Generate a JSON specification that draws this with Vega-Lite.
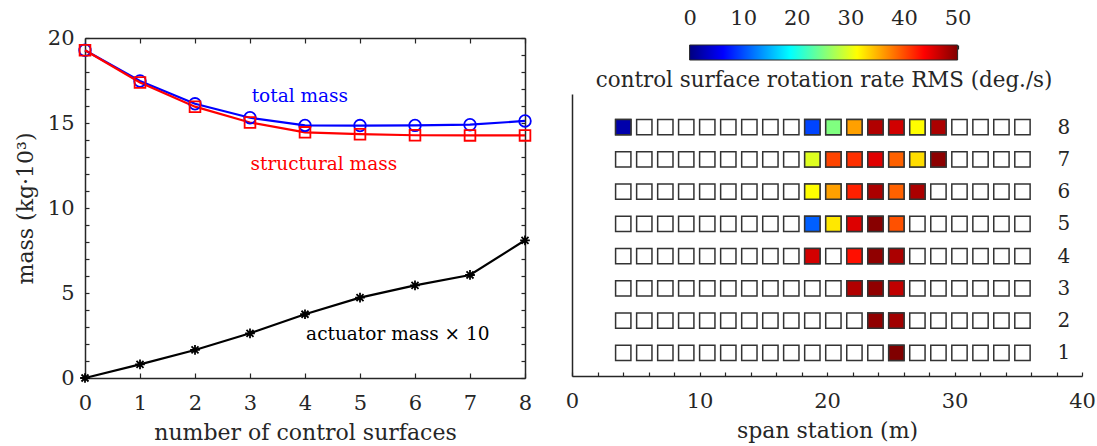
{
  "$schema": "https://vega.github.io/schema/vega-lite/v6.json",
  "background": "white",
  "padding": {"left": 14, "top": 7, "right": 0, "bottom": 0},
  "config": {
    "font": "DejaVu Serif",
    "view": {"stroke": null},
    "axis": {
      "labelFont": "DejaVu Serif", "titleFont": "DejaVu Serif",
      "labelFontSize": 21, "titleFontSize": 22, "titleFontWeight": "normal",
      "labelColor": "#262626", "titleColor": "#262626",
      "domainColor": "#262626", "tickColor": "#262626",
      "domainWidth": 1.5, "tickWidth": 1.2, "grid": false,
      "labelFlush": false, "labelOverlap": false
    }
  },
  "spacing": 30,
  "hconcat": [
    {
      "width": 440, "height": 340,
      "data": {"values": [
        {"n": 0, "series": "total", "mass": 19.28},
        {"n": 1, "series": "total", "mass": 17.47},
        {"n": 2, "series": "total", "mass": 16.13},
        {"n": 3, "series": "total", "mass": 15.31},
        {"n": 4, "series": "total", "mass": 14.86},
        {"n": 5, "series": "total", "mass": 14.85},
        {"n": 6, "series": "total", "mass": 14.86},
        {"n": 7, "series": "total", "mass": 14.9},
        {"n": 8, "series": "total", "mass": 15.12},
        {"n": 0, "series": "structural", "mass": 19.28},
        {"n": 1, "series": "structural", "mass": 17.38},
        {"n": 2, "series": "structural", "mass": 15.96},
        {"n": 3, "series": "structural", "mass": 15.03},
        {"n": 4, "series": "structural", "mass": 14.45},
        {"n": 5, "series": "structural", "mass": 14.34},
        {"n": 6, "series": "structural", "mass": 14.28},
        {"n": 7, "series": "structural", "mass": 14.27},
        {"n": 8, "series": "structural", "mass": 14.27},
        {"n": 0, "series": "actuator", "mass": 0},
        {"n": 1, "series": "actuator", "mass": 0.8},
        {"n": 2, "series": "actuator", "mass": 1.65},
        {"n": 3, "series": "actuator", "mass": 2.63},
        {"n": 4, "series": "actuator", "mass": 3.75},
        {"n": 5, "series": "actuator", "mass": 4.73},
        {"n": 6, "series": "actuator", "mass": 5.45},
        {"n": 7, "series": "actuator", "mass": 6.06},
        {"n": 8, "series": "actuator", "mass": 8.1}
      ]},
      "layer": [
        {
          "mark": {"type": "line", "strokeWidth": 2.2},
          "encoding": {
            "x": {"field": "n", "type": "quantitative", "scale": {"domain": [0, 8], "nice": false},
                  "axis": {"values": [0,1,2,3,4,5,6,7,8], "format": "d", "tickSize": -5, "labelPadding": 19,
                           "title": "number of control surfaces", "titlePadding": 9}},
            "y": {"field": "mass", "type": "quantitative", "scale": {"domain": [0, 20], "nice": false},
                  "axis": {"values": [0,1,2,3,4,5,6,7,8,9,10,11,12,13,14,15,16,17,18,19,20],
                           "labelExpr": "datum.value % 5 === 0 ? datum.label : ''",
                           "tickSize": -4,
                           "labelPadding": 15, "title": "mass (kg·10³)", "titlePadding": 10}},
            "color": {"field": "series", "type": "nominal",
                      "scale": {"domain": ["total", "structural", "actuator"], "range": ["#0000ff", "#ff0000", "#000000"]},
                      "legend": null}
          }
        },
        {
          "mark": {"type": "point", "filled": false, "strokeWidth": 1.8, "opacity": 1},
          "encoding": {
            "x": {"field": "n", "type": "quantitative", "axis": null},
            "y": {"field": "mass", "type": "quantitative", "axis": null},
            "color": {"field": "series", "type": "nominal", "legend": null},
            "shape": {"field": "series", "type": "nominal",
                      "scale": {"domain": ["total", "structural", "actuator"],
                                "range": ["circle", "square", "M-1,0L1,0M0,-1L0,1M-0.72,-0.72L0.72,0.72M-0.72,0.72L0.72,-0.72"]},
                      "legend": null},
            "size": {"field": "series", "type": "nominal",
                     "scale": {"domain": ["total", "structural", "actuator"], "range": [135, 95, 225]},
                     "legend": null}
          }
        },
        {
          "data": {"values": [
            {"n": 3.03, "mass": 16.6, "series": "total", "label": "total mass"},
            {"n": 3.01, "mass": 12.57, "series": "structural", "label": "structural mass"},
            {"n": 4.02, "mass": 2.57, "series": "actuator", "label": "actuator mass × 10"}
          ]},
          "mark": {"type": "text", "align": "left", "baseline": "middle", "fontSize": 18.5, "font": "DejaVu Serif"},
          "encoding": {
            "x": {"field": "n", "type": "quantitative",
                  "axis": {"orient": "top", "values": [0,1,2,3,4,5,6,7,8], "labels": false, "tickSize": -5, "title": null}},
            "y": {"field": "mass", "type": "quantitative",
                  "axis": {"orient": "right", "values": [0,1,2,3,4,5,6,7,8,9,10,11,12,13,14,15,16,17,18,19,20], "labels": false,
                           "tickSize": -4, "title": null}},
            "text": {"field": "label"},
            "color": {"field": "series", "type": "nominal", "legend": null}
          }
        }
      ],
      "resolve": {"axis": {"x": "independent", "y": "independent"}}
    },
    {
      "spacing": 3,
      "vconcat": [
        {
          "width": 510, "height": 22,
          "data": {"values": [{"lo": 0, "hi": 50, "b": 0, "t": 1}]},
          "layer": [
            {
              "mark": {"type": "rect", "fill": {"gradient": "linear", "x1": 0, "x2": 1, "y1": 0, "y2": 0,
                        "stops": [
                          {"offset": 0, "color": "#000080"},
                          {"offset": 0.125, "color": "#0000ff"},
                          {"offset": 0.375, "color": "#00ffff"},
                          {"offset": 0.625, "color": "#ffff00"},
                          {"offset": 0.875, "color": "#ff0000"},
                          {"offset": 1, "color": "#800000"}
                        ]}},
              "encoding": {
                "x": {"field": "lo", "type": "quantitative", "scale": {"domain": [-21.94, 73.21], "nice": false, "zero": false},
                      "axis": {"orient": "top", "values": [0,10,20,30,40,50], "tickSize": -4, "domain": false,
                               "offset": -7, "labelPadding": 21, "title": null}},
                "x2": {"field": "hi"},
                "y": {"field": "b", "type": "quantitative", "scale": {"domain": [0, 1.4667], "nice": false}, "axis": null},
                "y2": {"field": "t"}
              }
            },
            {
              "mark": {"type": "rect", "fillOpacity": 0, "stroke": "#262626", "strokeWidth": 1},
              "encoding": {
                "x": {"field": "lo", "type": "quantitative",
                      "axis": {"orient": "bottom", "labels": false, "ticks": false, "domain": false,
                               "title": "control surface rotation rate RMS (deg./s)", "titleFontSize": 21.4, "titlePadding": 9,
                               "titleX": 251.6, "titleAlign": "center", "titleAnchor": "middle"}},
                "x2": {"field": "hi"},
                "y": {"field": "b", "type": "quantitative", "axis": null},
                "y2": {"field": "t"}
              }
            }
          ],
          "resolve": {"axis": {"x": "independent"}}
        },
        {
          "width": 510, "height": 282,
          "data": {"values": [
            {"row": 8, "station": [4.02,5.67,7.32,8.96,10.61,12.26,13.91,15.56,17.2,18.85,20.5,22.15,23.8,25.44,27.09,28.74,30.39,32.04,33.68,35.33],
             "rate": [2.1,null,null,null,null,null,null,null,null,9.6,25,35.9,47.6,46,31.3,47.9,null,null,null,null]},
            {"row": 7, "station": [4.02,5.67,7.32,8.96,10.61,12.26,13.91,15.56,17.2,18.85,20.5,22.15,23.8,25.44,27.09,28.74,30.39,32.04,33.68,35.33],
             "rate": [null,null,null,null,null,null,null,null,null,29.7,40.4,41.4,45.3,39,32.9,49.4,null,null,null,null]},
            {"row": 6, "station": [4.02,5.67,7.32,8.96,10.61,12.26,13.91,15.56,17.2,18.85,20.5,22.15,23.8,25.44,27.09,28.74,30.39,32.04,33.68,35.33],
             "rate": [null,null,null,null,null,null,null,null,null,31.3,35.9,42.2,47.9,39,47.9,null,null,null,null,null]},
            {"row": 5, "station": [4.02,5.67,7.32,8.96,10.61,12.26,13.91,15.56,17.2,18.85,20.5,22.15,23.8,25.44,27.09,28.74,30.39,32.04,33.68,35.33],
             "rate": [null,null,null,null,null,null,null,null,null,10.9,32.4,45.4,49.6,39.8,null,null,null,null,null,null]},
            {"row": 4, "station": [4.02,5.67,7.32,8.96,10.61,12.26,13.91,15.56,17.2,18.85,20.5,22.15,23.8,25.44,27.09,28.74,30.39,32.04,33.68,35.33],
             "rate": [null,null,null,null,null,null,null,null,null,45.9,null,43,49.2,47.9,null,null,null,null,null,null]},
            {"row": 3, "station": [4.02,5.67,7.32,8.96,10.61,12.26,13.91,15.56,17.2,18.85,20.5,22.15,23.8,25.44,27.09,28.74,30.39,32.04,33.68,35.33],
             "rate": [null,null,null,null,null,null,null,null,null,null,null,47.6,49.2,46.8,null,null,null,null,null,null]},
            {"row": 2, "station": [4.02,5.67,7.32,8.96,10.61,12.26,13.91,15.56,17.2,18.85,20.5,22.15,23.8,25.44,27.09,28.74,30.39,32.04,33.68,35.33],
             "rate": [null,null,null,null,null,null,null,null,null,null,null,null,49.2,48.4,null,null,null,null,null,null]},
            {"row": 1, "station": [4.02,5.67,7.32,8.96,10.61,12.26,13.91,15.56,17.2,18.85,20.5,22.15,23.8,25.44,27.09,28.74,30.39,32.04,33.68,35.33],
             "rate": [null,null,null,null,null,null,null,null,null,null,null,null,null,50,null,null,null,null,null,null]}
          ]},
          "transform": [{"flatten": ["station", "rate"]}],
          "layer": [
            {
              "mark": {"type": "point", "shape": "square", "filled": true, "fill": "white", "stroke": "#333333", "strokeWidth": 1.5, "size": 235, "opacity": 1},
              "encoding": {
                "x": {"field": "station", "type": "quantitative", "scale": {"domain": [0, 40], "nice": false},
                      "axis": {"values": [0,2,4,6,8,10,12,14,16,18,20,22,24,26,28,30,32,34,36,38,40],
                               "labelExpr": "datum.value % 10 === 0 ? datum.label : ''",
                               "tickSize": -4, "labelPadding": 18, "domain": true,
                               "title": "span station (m)", "titlePadding": 9}},
                "y": {"field": "row", "type": "quantitative", "scale": {"domain": [0.28, 9.03], "nice": false, "zero": false},
                      "axis": {"labels": false, "ticks": false, "domain": true, "title": null}}
              }
            },
            {
              "transform": [{"filter": "isValid(datum.rate)"}],
              "mark": {"type": "point", "shape": "square", "filled": true, "stroke": "#333333", "strokeWidth": 1.5, "size": 235, "opacity": 1},
              "encoding": {
                "x": {"field": "station", "type": "quantitative",
                      "axis": {"values": [0,2,4,6,8,10,12,14,16,18,20,22,24,26,28,30,32,34,36,38,40],
                               "labelExpr": "datum.value % 10 === 0 ? datum.label : ''",
                               "tickSize": -4, "labelPadding": 18, "domain": true,
                               "title": "span station (m)", "titlePadding": 9}},
                "y": {"field": "row", "type": "quantitative",
                      "axis": {"orient": "right", "values": [1,2,3,4,5,6,7,8], "format": "d", "domain": false, "ticks": false,
                               "offset": -25, "labelPadding": 0, "labelFontSize": 20, "title": null}},
                "fill": {"field": "rate", "type": "quantitative",
                         "scale": {"type": "linear", "domain": [0, 6.25, 18.75, 31.25, 43.75, 50],
                                   "range": ["#000080", "#0000ff", "#00ffff", "#ffff00", "#ff0000", "#800000"], "interpolate": "rgb"},
                         "legend": null}
              }
            }
          ],
          "resolve": {"axis": {"y": "independent"}}
        }
      ]
    }
  ]
}
